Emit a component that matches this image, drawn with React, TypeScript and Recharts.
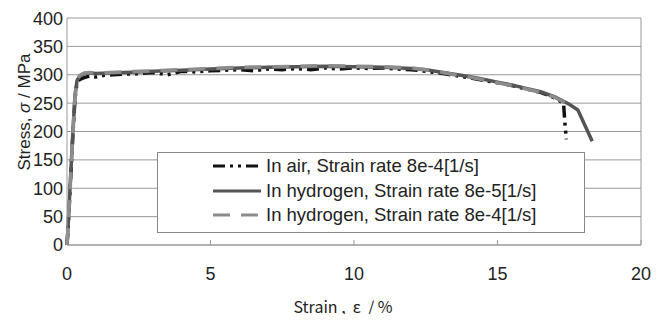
import {
  LineChart, Line, XAxis, YAxis, CartesianGrid, Legend, ReferenceLine, Label,
} from 'recharts';

// strain (%) / stress (MPa)
const airStrain = [0, 0.05, 0.12, 0.2, 0.28, 0.35, 0.45, 0.6, 0.8, 1.0, 1.3, 1.6, 2.0, 2.5, 3.0, 3.5, 4.0, 4.5, 5.0, 5.5, 6.0, 6.5, 7.0, 7.5, 8.0, 8.5, 9.0, 9.5, 10, 10.5, 11, 11.5, 12, 12.5, 13, 13.5, 14, 14.5, 15, 15.5, 16, 16.5, 17, 17.3, 17.35, 17.4];
const airStress = [0, 40, 110, 190, 258, 286, 292, 295, 298, 296, 299, 300, 301, 302, 304, 300, 306, 305, 307, 308, 309, 307, 310, 309, 311, 309, 312, 310, 312, 311, 312, 310, 309, 306, 303, 299, 295, 290, 286, 281, 275, 269, 259, 250, 214, 186];

const h2SlowStrain = [0, 0.05, 0.12, 0.2, 0.28, 0.35, 0.45, 0.6, 0.8, 1.0, 1.5, 2.0, 2.5, 3.0, 4.0, 5.0, 6.0, 7.0, 8.0, 9.0, 10, 11, 12, 12.5, 13, 13.5, 14, 14.5, 15, 15.5, 16, 16.5, 17, 17.5, 17.8, 18.3];
const h2SlowStress = [0, 45, 115, 195, 265, 290, 298, 302, 303, 302, 303, 304, 305, 306, 308, 310, 312, 313, 314, 315, 314, 313, 311, 309, 305, 301, 297, 292, 287, 282, 276, 270, 261, 248, 238, 183];

const h2FastStrain = [0, 0.05, 0.12, 0.2, 0.28, 0.35, 0.45, 0.6, 0.8, 1.0, 1.5, 2.0, 3.0, 4.0, 5.0, 6.0, 7.0, 8.0, 9.0, 10, 11, 12, 12.5, 13, 13.5, 14, 14.5, 15, 15.5, 16, 16.5, 17, 17.3, 17.6];
const h2FastStress = [0, 42, 112, 192, 262, 291, 299, 303, 304, 303, 304, 305, 307, 309, 311, 313, 314, 315, 316, 315, 314, 312, 309, 305, 300, 296, 291, 286, 281, 275, 269, 260, 252, 240];

const xTicks = [0, 5, 10, 15, 20];
const yTicks = [0, 50, 100, 150, 200, 250, 300, 350, 400];

const toPoints = (xs: number[], ys: number[]) => xs.map((x, i) => ({ x, y: ys[i] }));

const series = [
  { name: 'In air, Strain rate 8e-4[1/s]', data: toPoints(airStrain, airStress), color: '#111111', dash: '12 5 3 5 3 5' },
  { name: 'In hydrogen, Strain rate 8e-5[1/s]', data: toPoints(h2SlowStrain, h2SlowStress), color: '#555555', dash: undefined },
  { name: 'In hydrogen, Strain rate 8e-4[1/s]', data: toPoints(h2FastStrain, h2FastStress), color: '#8c8c8c', dash: '17 11' },
];

const FONT = 'Arial, "Liberation Sans", sans-serif';

function XTick({ x, y, payload }: any) {
  return (
    <g>
      <line x1={x} y1={y} x2={x} y2={y - 5} stroke="#999" />
      <text x={x} y={y + 35} textAnchor="middle" fontSize={18} fill="#222" fontFamily={FONT}>
        {payload.value}
      </text>
    </g>
  );
}

function LegendBox() {
  return (
    <div style={{ position: 'relative', width: 426, height: 79, background: '#fff', border: '1px solid #888' }}>
      {series.map((s, i) => (
        <div key={s.name} style={{ position: 'absolute', left: 54, top: 1 + i * 24.5, height: 24, display: 'flex', alignItems: 'center', whiteSpace: 'nowrap' }}>
          <svg width={50} height={10}>
            <line x1={1} y1={5} x2={49} y2={5} stroke={s.color} strokeWidth={3} strokeDasharray={s.dash} />
          </svg>
          <span style={{ marginLeft: 4, fontSize: 18.5, color: '#222', fontFamily: FONT }}>{s.name}</span>
        </div>
      ))}
    </div>
  );
}

export default function App() {
  return (
    <div style={{ height: 306 }}>
      <LineChart width={653} height={314} margin={{ top: 10, right: 20, left: 0, bottom: 0 }}>
        <CartesianGrid vertical={false} stroke="#999" />
        <XAxis
          type="number"
          dataKey="x"
          domain={[0, 20]}
          ticks={xTicks}
          height={77}
          tickLine={false}
          tickSize={0}
          tickMargin={0}
          tick={<XTick />}
          stroke="#999"
        >
          <Label
            content={() => (
              <text x={335} y={305} textAnchor="middle" fontSize={16} fill="#222" style={{ whiteSpace: 'pre' }} fontFamily='"Noto Sans CJK JP", sans-serif'>
                {'Strain ,  ε  / %'}
              </text>
            )}
          />
        </XAxis>
        <YAxis
          type="number"
          domain={[0, 400]}
          ticks={yTicks}
          width={59}
          tickLine={false}
          tickSize={0}
          tickMargin={4}
          tick={{ fontSize: 18, fill: '#222', fontFamily: FONT }}
          stroke="#999"
        >
          <Label
            content={() => (
              <text x={16} y={104} transform="rotate(-90 16 104)" textAnchor="middle" dominantBaseline="central" fontSize={17} fill="#222" fontFamily={FONT}>
                Stress, <tspan fontStyle="italic">σ</tspan> / MPa
              </text>
            )}
          />
        </YAxis>
        <ReferenceLine x={20} stroke="#999" />
        {series.map((s) => (
          <Line
            key={s.name}
            data={s.data}
            dataKey="y"
            name={s.name}
            type="linear"
            stroke={s.color}
            strokeWidth={3.5}
            strokeDasharray={s.dash}
            dot={false}
            isAnimationActive={false}
          />
        ))}
        <Legend
          layout="vertical"
          align="center"
          verticalAlign="middle"
          content={<LegendBox />}
          wrapperStyle={{ left: 149, top: 144, width: 428, height: 81 }}
        />
      </LineChart>
    </div>
  );
}
